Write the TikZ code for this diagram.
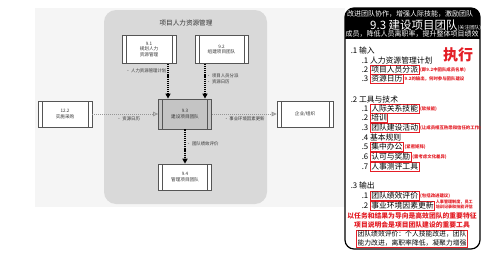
\documentclass[tikz,border=0pt]{standalone}
\usepackage{fontspec}
\setmainfont{Noto Sans CJK SC}
\usepackage{xcolor}
\usepackage{tikz}
\usetikzlibrary{positioning,arrows.meta}
\definecolor{pagebg}{RGB}{245,245,245}
\definecolor{hrmbg}{RGB}{217,217,217}
\definecolor{boxline}{RGB}{85,85,85}
\definecolor{hotbox}{RGB}{196,196,196}
\definecolor{lblclr}{RGB}{50,50,50}
\definecolor{flowgray}{RGB}{150,150,150}
\definecolor{notered}{RGB}{228,30,38}
\tikzset{
    proc/.style={rectangle,draw=boxline,fill=white,line width=0.6pt,minimum width=54pt,minimum height=28pt,
        align=center,inner sep=1pt,text=lblclr,font=\fontsize{4.6}{5.6}\selectfont,
        path picture={\draw[boxline,line width=0.5pt]
            ([xshift=4pt]path picture bounding box.south west) -- ([xshift=4pt]path picture bounding box.north west)
            ([xshift=-4pt]path picture bounding box.south east) -- ([xshift=-4pt]path picture bounding box.north east);}},
    hotproc/.style={proc,fill=hotbox,line width=0.8pt},
    flowlbl/.style={text=lblclr,font=\fontsize{4.4}{5.4}\selectfont,inner sep=1pt},
    darkflow/.style={-{Triangle[length=5pt,width=5pt]},line width=1.3pt,dash pattern=on 1.2pt off 0.9pt},
    grayflow/.style={-{Triangle[length=5pt,width=4.5pt,fill=gray!35]},draw=flowgray,line width=0.8pt,dash pattern=on 1pt off 1pt},
    grouptitle/.style={text=lblclr,font=\fontsize{6.6}{7.6}\selectfont},
    hdsmall/.style={anchor=west,text=white,inner sep=0pt,font=\fontsize{7}{8}\selectfont},
    bodytxt/.style={anchor=west,inner sep=0.6pt,text height=6.6pt,text depth=1.4pt,font=\fontsize{7.8}{9}\selectfont},
    hilite/.style={bodytxt,draw=notered,line width=0.7pt,inner sep=0.8pt},
    annotxt/.style={anchor=west,text=notered,inner sep=0.3pt,font=\bfseries\fontsize{4.4}{5.2}\selectfont},
    redline/.style={text=notered,inner sep=0pt,font=\bfseries\fontsize{6.8}{8}\selectfont},
}

\begin{document}
\begin{tikzpicture}[x=1pt,y=-1pt]
\useasboundingbox (0,0) rectangle (500,257);
% left: process flow
\fill[pagebg] (35,8) rectangle (345,207);
\fill[hrmbg,rounded corners=12pt] (104,10) rectangle (267,204);
\node[grouptitle] (ttl) at (186,23) {项目人力资源管理};

\node[proc] (p91) at (149,49.5) {9.1\\规划人力\\资源管理};
\node[proc,minimum width=53pt] (p92) at (221.5,49.5) {9.2\\组建项目团队};
\node[hotproc,minimum width=53pt,minimum height=30pt] (p93) at (185,114) {9.3\\建设项目团队};
\node[proc,minimum width=53pt,minimum height=26pt] (p94) at (185,177) {9.4\\管理项目团队};
\node[proc,minimum height=26pt] (p122) at (65,114) {12.2\\实施采购};
\node[proc,minimum width=56pt,minimum height=26pt] (org) at (305,114) {企业/组织};

\path ([xshift=-17pt]p93.north) coordinate (in91) ([xshift=20pt]p93.north) coordinate (in92);
\draw[darkflow] (in91 |- p91.south) -- node[flowlbl,left,pos=0.2] {• 人力资源管理计划} (in91);
\draw[darkflow] (in92 |- p92.south) -- node[flowlbl,right,pos=0.43,align=left] {• 项目人员分派\\• 资源日历} (in92);
\draw[darkflow] (p93) -- node[flowlbl,right,pos=0.43] {• 团队绩效评价} (p94);
\draw[grayflow] (p122) -- node[flowlbl,below=1pt,pos=0.55] {• 资源日历} (p93);
\draw[grayflow] (p93) -- node[flowlbl,below=1pt] {• 事业环境因素更新} (org);

% right: process card
\fill[white,rounded corners=9pt] (345,8) rectangle (480,249);
\begin{scope}
  \clip[rounded corners=9pt] (345,8) rectangle (480,249);
  \fill[black] (345,8) rectangle (480,39);
\end{scope}
\draw[line width=1.2pt,rounded corners=9pt] (345,8) rectangle (480,249);

\node[hdsmall] (hd1) at (347,14) {改进团队协作，增强人际技能，激励团队};
\node[hdsmall,font=\fontsize{11.5}{13}\selectfont] (hd2) at (370,25) {9.3 建设项目团队{\fontsize{5}{6}\selectfont(关注团队)}};
\node[hdsmall] (hd3) at (345.5,34) {成员，降低人员离职率，提升整体项目绩效};

\node[text=notered,font=\bfseries\fontsize{15}{17}\selectfont] (exec) at (458,55) {执行};

\node[bodytxt] (s1) at (350,51) {.1 输入};
\node[bodytxt] (n11) at (361,61) {.1 人力资源管理计划};
\node[bodytxt] (n12) at (361,70) {.2};
\node[hilite,right=1pt of n12] (t12) {项目人员分派};
\node[annotxt,right=0.5pt of t12] (a12) {(即9.2中团队成员名单)};
\node[bodytxt] (n13) at (361,79) {.3};
\node[hilite,right=1pt of n13] (t13) {资源日历};
\node[annotxt,right=0.5pt of t13] (a13) {9.2的输出，何时参与团队建设};

\node[bodytxt] (s2) at (350,100) {.2 工具与技术};
\node[bodytxt] (n21) at (361,109) {.1};
\node[hilite,right=1pt of n21] (t21) {人际关系技能};
\node[annotxt,right=0.5pt of t21] (a21) {(软技能)};
\node[bodytxt] (n22) at (361,118) {.2};
\node[hilite,right=1pt of n22] (t22) {培训};
\node[bodytxt] (n23) at (361,128) {.3};
\node[hilite,right=1pt of n23] (t23) {团队建设活动};
\node[annotxt,right=0.5pt of t23] (a23) {(让成员相互熟悉和信任的工作)};
\node[bodytxt] (n24) at (361,138) {.4 基本规则};
\node[bodytxt] (n25) at (361,147) {.5};
\node[hilite,right=1pt of n25] (t25) {集中办公};
\node[annotxt,right=0.5pt of t25] (a25) {(紧密矩阵)};
\node[bodytxt] (n26) at (361,157) {.6};
\node[hilite,right=1pt of n26] (t26) {认可与奖励};
\node[annotxt,right=0.5pt of t26] (a26) {(需考虑文化差异)};
\node[bodytxt] (n27) at (361,167) {.7};
\node[hilite,right=1pt of n27] (t27) {人事测评工具};

\node[bodytxt] (s3) at (350,186) {.3 输出};
\node[bodytxt] (n31) at (361,196) {.1};
\node[hilite,right=1pt of n31] (t31) {团队绩效评价};
\node[annotxt,right=0.5pt of t31] (a31) {(包括改进建议)};
\node[bodytxt] (n32) at (361,206) {.2};
\node[hilite,right=1pt of n32] (t32) {事业环境因素更新};
\node[annotxt,align=left,font=\bfseries\fontsize{4.1}{5}\selectfont,right=0.5pt of t32,yshift=2pt] (a32) {人事管理制度，员工\\培训记录和技能评估};

\node[redline] (r1) at (412,216) {以任务和结果为导向是高效团队的重要特征};
\node[redline] (r2) at (412,225) {项目说明会是项目团队建设的重要工具};
\node[draw=notered,line width=0.5pt,inner sep=1pt,align=center,font=\fontsize{6.8}{9}\selectfont] (sum) at (412,238.5)
    {团队绩效评价：个人技能改进，团队\\能力改进，离职率降低，凝聚力增强};
\end{tikzpicture}
\end{document}
